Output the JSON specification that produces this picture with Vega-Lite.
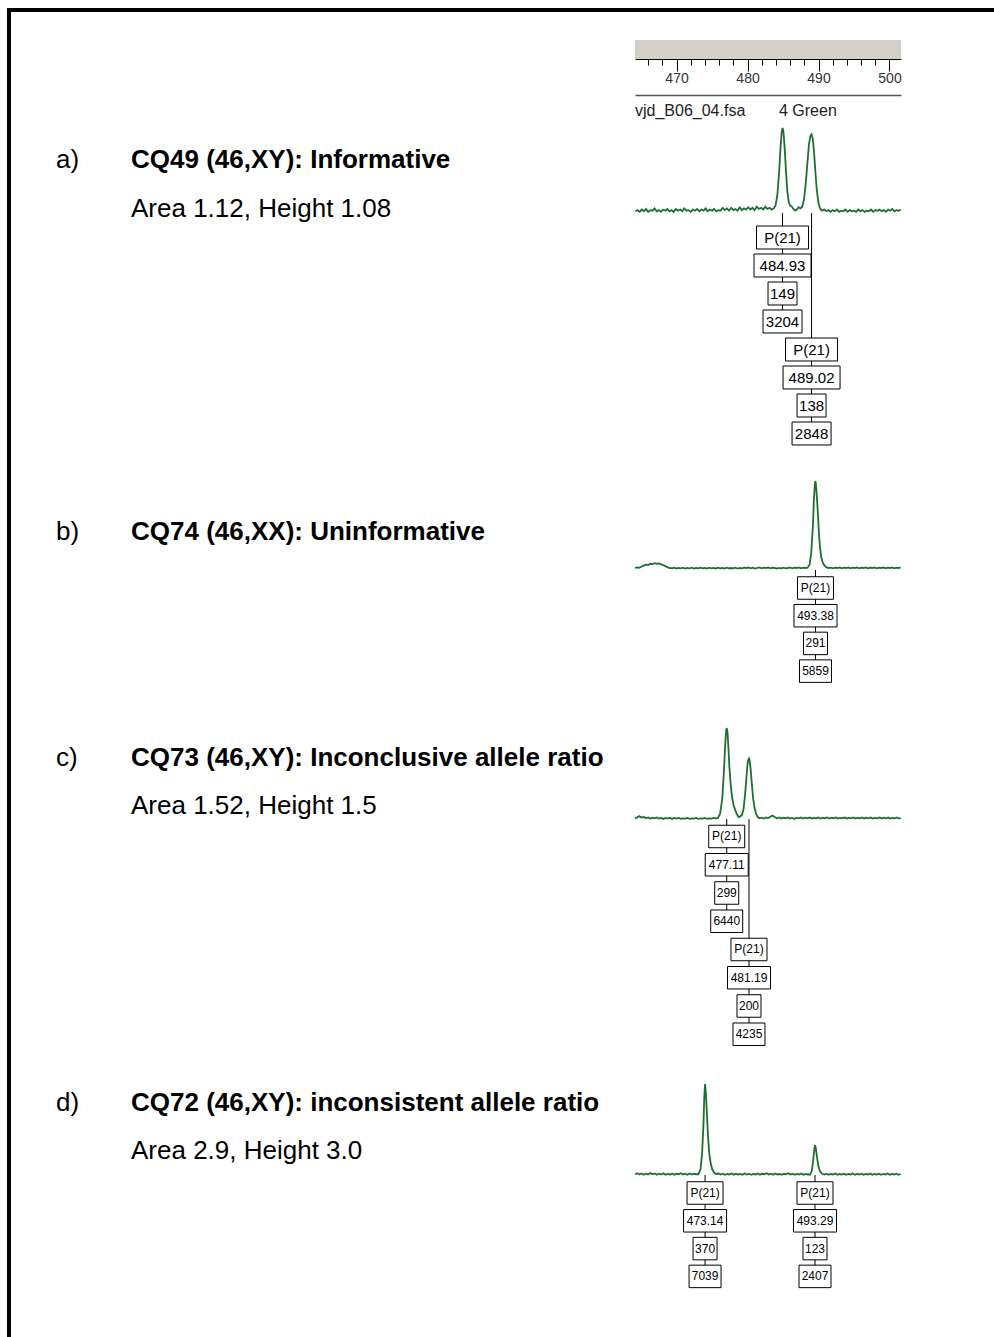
{
  "$schema": "https://vega.github.io/schema/vega-lite/v6.json",
  "padding": {"left": 6, "top": 7, "right": 0, "bottom": 0},
  "background": "white",
  "config": {"view": {"stroke": null}, "font": "Liberation Sans"},
  "datasets": {
    "texts": [
      {"kind": "letter", "line": 1, "text": "a)"},
      {"kind": "heading", "line": 1, "text": "CQ49 (46,XY): Informative"},
      {"kind": "detail", "line": 2, "text": "Area 1.12, Height 1.08"},
      {"kind": "letter", "line": 3, "text": "b)"},
      {"kind": "heading", "line": 3, "text": "CQ74 (46,XX): Uninformative"},
      {"kind": "letter", "line": 4, "text": "c)"},
      {"kind": "heading", "line": 4, "text": "CQ73 (46,XY): Inconclusive allele ratio"},
      {"kind": "detail", "line": 5, "text": "Area 1.52, Height 1.5"},
      {"kind": "letter", "line": 6, "text": "d)"},
      {"kind": "heading", "line": 6, "text": "CQ72 (46,XY): inconsistent allele ratio"},
      {"kind": "detail", "line": 7, "text": "Area 2.9, Height 3.0"}
    ],
    "peaks": [
      {"panel": "a", "peak": 484.93, "group": 0, "allele": "P(21)", "size": "484.93", "height": "149", "area": "3204"},
      {"panel": "a", "peak": 489.02, "group": 1, "allele": "P(21)", "size": "489.02", "height": "138", "area": "2848"},
      {"panel": "b", "peak": 493.38, "group": 0, "allele": "P(21)", "size": "493.38", "height": "291", "area": "5859"},
      {"panel": "c", "peak": 477.11, "group": 0, "allele": "P(21)", "size": "477.11", "height": "299", "area": "6440"},
      {"panel": "c", "peak": 481.19, "group": 1, "allele": "P(21)", "size": "481.19", "height": "200", "area": "4235"},
      {"panel": "d", "peak": 473.14, "group": 0, "allele": "P(21)", "size": "473.14", "height": "370", "area": "7039"},
      {"panel": "d", "peak": 493.29, "group": 0, "allele": "P(21)", "size": "493.29", "height": "123", "area": "2407"}
    ],
    "ta": [
      {"x":464.2,"y":4},{"x":464.5,"y":6},{"x":464.8,"y":3},{"x":465.1,"y":7},{"x":465.4,"y":4},{"x":465.7,"y":8},{"x":466.0,"y":3},{"x":466.3,"y":6},{"x":466.6,"y":5},{"x":466.9,"y":9},
      {"x":467.2,"y":4},{"x":467.5,"y":6},{"x":467.8,"y":3},{"x":468.1,"y":7},{"x":468.4,"y":5},{"x":468.7,"y":8},{"x":469.0,"y":4},{"x":469.3,"y":6},{"x":469.6,"y":3},{"x":469.9,"y":8},
      {"x":470.2,"y":5},{"x":470.5,"y":7},{"x":470.8,"y":4},{"x":471.1,"y":9},{"x":471.4,"y":5},{"x":471.7,"y":6},{"x":472.0,"y":3},{"x":472.3,"y":7},{"x":472.6,"y":5},{"x":472.9,"y":8},
      {"x":473.2,"y":4},{"x":473.5,"y":7},{"x":473.8,"y":5},{"x":474.1,"y":9},{"x":474.4,"y":4},{"x":474.7,"y":7},{"x":475.0,"y":5},{"x":475.3,"y":8},{"x":475.6,"y":4},{"x":475.9,"y":6},
      {"x":476.2,"y":5},{"x":476.5,"y":10},{"x":476.8,"y":6},{"x":477.1,"y":9},{"x":477.4,"y":5},{"x":477.7,"y":10},{"x":478.0,"y":6},{"x":478.3,"y":8},{"x":478.6,"y":5},{"x":478.9,"y":11},
      {"x":479.2,"y":6},{"x":479.5,"y":9},{"x":479.8,"y":7},{"x":480.1,"y":11},{"x":480.4,"y":7},{"x":480.7,"y":10},{"x":481.0,"y":6},{"x":481.3,"y":12},{"x":481.6,"y":8},{"x":481.9,"y":10},
      {"x":482.2,"y":7},{"x":482.5,"y":12},{"x":482.8,"y":8},{"x":483.1,"y":10},{"x":483.4,"y":7},{"x":483.7,"y":9},{"x":483.95,"y":14},{"x":484.2,"y":32},{"x":484.45,"y":72},{"x":484.65,"y":115},
      {"x":484.8,"y":140},{"x":484.93,"y":149},{"x":485.05,"y":144},{"x":485.2,"y":120},{"x":485.4,"y":78},{"x":485.6,"y":40},{"x":485.8,"y":20},{"x":486.0,"y":14},{"x":486.2,"y":13},{"x":486.45,"y":8},
      {"x":486.7,"y":5},{"x":486.95,"y":7},{"x":487.2,"y":11},{"x":487.45,"y":9},{"x":487.7,"y":12},{"x":487.95,"y":24},{"x":488.2,"y":52},{"x":488.45,"y":90},{"x":488.65,"y":120},{"x":488.85,"y":135},
      {"x":489.02,"y":138},{"x":489.18,"y":131},{"x":489.35,"y":110},{"x":489.55,"y":75},{"x":489.75,"y":42},{"x":490.0,"y":18},{"x":490.25,"y":8},{"x":490.5,"y":5},{"x":490.8,"y":7},{"x":491.1,"y":4},
      {"x":491.4,"y":6},{"x":491.7,"y":3},{"x":492.0,"y":6},{"x":492.3,"y":4},{"x":492.6,"y":7},{"x":492.9,"y":3},{"x":493.2,"y":5},{"x":493.5,"y":4},{"x":493.8,"y":7},{"x":494.1,"y":3},
      {"x":494.4,"y":6},{"x":494.7,"y":4},{"x":495.0,"y":5},{"x":495.3,"y":3},{"x":495.6,"y":7},{"x":495.9,"y":4},{"x":496.2,"y":6},{"x":496.5,"y":3},{"x":496.8,"y":5},{"x":497.1,"y":4},
      {"x":497.4,"y":7},{"x":497.7,"y":3},{"x":498.0,"y":6},{"x":498.3,"y":5},{"x":498.6,"y":7},{"x":498.9,"y":4},{"x":499.2,"y":6},{"x":499.5,"y":3},{"x":499.8,"y":7},{"x":500.1,"y":5},
      {"x":500.4,"y":8},{"x":500.7,"y":4},{"x":501.0,"y":6},{"x":501.3,"y":5},{"x":501.6,"y":7}
    ],
    "tb": [
      {"x":460.3,"y":4},{"x":460.7,"y":6},{"x":461.1,"y":5},{"x":461.5,"y":9},{"x":461.9,"y":12},{"x":462.3,"y":15},{"x":462.7,"y":14},{"x":463.1,"y":18},{"x":463.5,"y":17},{"x":463.9,"y":20},
      {"x":464.3,"y":18},{"x":464.7,"y":19},{"x":465.1,"y":16},{"x":465.5,"y":13},{"x":465.9,"y":10},{"x":466.3,"y":6},{"x":466.7,"y":4},{"x":467.1,"y":3},{"x":467.5,"y":5},{"x":467.9,"y":2},
      {"x":468.3,"y":4},{"x":468.7,"y":3},{"x":469.1,"y":5},{"x":469.5,"y":2},{"x":469.9,"y":4},{"x":470.3,"y":3},{"x":470.7,"y":5},{"x":471.1,"y":2},{"x":471.5,"y":4},{"x":471.9,"y":3},
      {"x":472.3,"y":5},{"x":472.7,"y":3},{"x":473.1,"y":4},{"x":473.5,"y":2},{"x":473.9,"y":5},{"x":474.3,"y":3},{"x":474.7,"y":4},{"x":475.1,"y":2},{"x":475.5,"y":5},{"x":475.9,"y":3},
      {"x":476.3,"y":4},{"x":476.7,"y":2},{"x":477.1,"y":5},{"x":477.5,"y":3},{"x":477.9,"y":4},{"x":478.3,"y":3},{"x":478.7,"y":5},{"x":479.1,"y":2},{"x":479.5,"y":4},{"x":479.9,"y":3},
      {"x":480.3,"y":5},{"x":480.7,"y":4},{"x":481.1,"y":6},{"x":481.5,"y":3},{"x":481.9,"y":5},{"x":482.3,"y":2},{"x":482.7,"y":4},{"x":483.1,"y":6},{"x":483.5,"y":3},{"x":483.9,"y":5},
      {"x":484.3,"y":4},{"x":484.7,"y":6},{"x":485.1,"y":3},{"x":485.5,"y":5},{"x":485.9,"y":4},{"x":486.3,"y":2},{"x":486.7,"y":4},{"x":487.1,"y":3},{"x":487.5,"y":5},{"x":487.9,"y":3},
      {"x":488.3,"y":4},{"x":488.7,"y":6},{"x":489.1,"y":3},{"x":489.5,"y":5},{"x":489.9,"y":4},{"x":490.3,"y":6},{"x":490.7,"y":3},{"x":491.1,"y":5},{"x":491.5,"y":4},{"x":491.9,"y":5},
      {"x":492.3,"y":15},{"x":492.6,"y":55},{"x":492.9,"y":140},{"x":493.1,"y":235},{"x":493.28,"y":283},{"x":493.38,"y":291},{"x":493.5,"y":272},{"x":493.65,"y":232},{"x":493.8,"y":190},{"x":494.0,"y":122},
      {"x":494.2,"y":72},{"x":494.45,"y":38},{"x":494.75,"y":20},{"x":495.05,"y":12},{"x":495.4,"y":6},{"x":495.8,"y":4},{"x":496.2,"y":5},{"x":496.6,"y":3},{"x":497.0,"y":5},{"x":497.4,"y":4},
      {"x":497.8,"y":6},{"x":498.2,"y":3},{"x":498.6,"y":5},{"x":499.0,"y":4},{"x":499.4,"y":6},{"x":499.8,"y":3},{"x":500.2,"y":5},{"x":500.6,"y":4},{"x":501.0,"y":6},{"x":501.4,"y":3},
      {"x":501.8,"y":5},{"x":502.2,"y":4},{"x":502.6,"y":6},{"x":503.0,"y":3},{"x":503.4,"y":5},{"x":503.8,"y":4},{"x":504.2,"y":6},{"x":504.6,"y":3},{"x":505.0,"y":5},{"x":505.4,"y":4},
      {"x":505.8,"y":6},{"x":506.2,"y":3},{"x":506.6,"y":5},{"x":507.0,"y":4},{"x":507.4,"y":6},{"x":507.8,"y":3},{"x":508.2,"y":5},{"x":508.6,"y":4},{"x":509.0,"y":5}
    ],
    "tc": [
      {"x":460.3,"y":5},{"x":460.7,"y":8},{"x":461.1,"y":12},{"x":461.5,"y":7},{"x":461.9,"y":10},{"x":462.3,"y":5},{"x":462.7,"y":8},{"x":463.1,"y":4},{"x":463.5,"y":7},{"x":463.9,"y":5},
      {"x":464.3,"y":8},{"x":464.7,"y":4},{"x":465.1,"y":6},{"x":465.5,"y":3},{"x":465.9,"y":6},{"x":466.3,"y":4},{"x":466.7,"y":7},{"x":467.1,"y":3},{"x":467.5,"y":6},{"x":467.9,"y":4},
      {"x":468.3,"y":6},{"x":468.7,"y":3},{"x":469.1,"y":5},{"x":469.5,"y":4},{"x":469.9,"y":6},{"x":470.3,"y":3},{"x":470.7,"y":5},{"x":471.1,"y":4},{"x":471.5,"y":6},{"x":471.9,"y":3},
      {"x":472.3,"y":5},{"x":472.7,"y":4},{"x":473.1,"y":6},{"x":473.5,"y":3},{"x":473.9,"y":5},{"x":474.3,"y":4},{"x":474.7,"y":6},{"x":475.1,"y":5},{"x":475.5,"y":6},{"x":475.9,"y":20},
      {"x":476.3,"y":70},{"x":476.6,"y":160},{"x":476.85,"y":250},{"x":477.0,"y":290},{"x":477.11,"y":299},{"x":477.25,"y":285},{"x":477.4,"y":242},{"x":477.6,"y":172},{"x":477.85,"y":112},{"x":478.1,"y":72},
      {"x":478.4,"y":46},{"x":478.7,"y":30},{"x":479.0,"y":17},{"x":479.3,"y":9},{"x":479.6,"y":11},{"x":479.9,"y":16},{"x":480.2,"y":36},{"x":480.5,"y":86},{"x":480.75,"y":146},{"x":480.95,"y":186},
      {"x":481.1,"y":198},{"x":481.19,"y":200},{"x":481.3,"y":194},{"x":481.5,"y":165},{"x":481.7,"y":120},{"x":481.95,"y":70},{"x":482.2,"y":40},{"x":482.5,"y":19},{"x":482.8,"y":9},{"x":483.1,"y":5},
      {"x":483.5,"y":7},{"x":483.9,"y":4},{"x":484.3,"y":8},{"x":484.7,"y":6},{"x":485.1,"y":10},{"x":485.5,"y":14},{"x":485.9,"y":9},{"x":486.3,"y":5},{"x":486.7,"y":8},{"x":487.1,"y":4},
      {"x":487.5,"y":7},{"x":487.9,"y":5},{"x":488.3,"y":8},{"x":488.7,"y":4},{"x":489.1,"y":6},{"x":489.5,"y":3},{"x":489.9,"y":7},{"x":490.3,"y":5},{"x":490.7,"y":8},{"x":491.1,"y":4},
      {"x":491.5,"y":7},{"x":491.9,"y":5},{"x":492.3,"y":8},{"x":492.7,"y":4},{"x":493.1,"y":6},{"x":493.5,"y":5},{"x":493.9,"y":8},{"x":494.3,"y":4},{"x":494.7,"y":7},{"x":495.1,"y":5},
      {"x":495.5,"y":8},{"x":495.9,"y":4},{"x":496.3,"y":7},{"x":496.7,"y":5},{"x":497.1,"y":8},{"x":497.5,"y":4},{"x":497.9,"y":6},{"x":498.3,"y":5},{"x":498.7,"y":8},{"x":499.1,"y":4},
      {"x":499.5,"y":7},{"x":499.9,"y":5},{"x":500.3,"y":8},{"x":500.7,"y":4},{"x":501.1,"y":6},{"x":501.5,"y":5},{"x":501.9,"y":8},{"x":502.3,"y":4},{"x":502.7,"y":7},{"x":503.1,"y":5},
      {"x":503.5,"y":8},{"x":503.9,"y":4},{"x":504.3,"y":6},{"x":504.7,"y":5},{"x":505.1,"y":8},{"x":505.5,"y":4},{"x":505.9,"y":7},{"x":506.3,"y":5},{"x":506.7,"y":8},{"x":507.1,"y":4},
      {"x":507.5,"y":6},{"x":507.9,"y":5},{"x":508.3,"y":8},{"x":508.7,"y":4},{"x":509.0,"y":6}
    ],
    "td": [
      {"x":460.3,"y":6},{"x":460.7,"y":10},{"x":461.1,"y":5},{"x":461.5,"y":9},{"x":461.9,"y":4},{"x":462.3,"y":8},{"x":462.7,"y":5},{"x":463.1,"y":11},{"x":463.5,"y":6},{"x":463.9,"y":9},
      {"x":464.3,"y":4},{"x":464.7,"y":8},{"x":465.1,"y":5},{"x":465.5,"y":10},{"x":465.9,"y":4},{"x":466.3,"y":7},{"x":466.7,"y":5},{"x":467.1,"y":9},{"x":467.5,"y":4},{"x":467.9,"y":8},
      {"x":468.3,"y":6},{"x":468.7,"y":10},{"x":469.1,"y":5},{"x":469.5,"y":8},{"x":469.9,"y":4},{"x":470.3,"y":9},{"x":470.7,"y":5},{"x":471.1,"y":8},{"x":471.5,"y":6},{"x":471.9,"y":6},
      {"x":472.3,"y":25},{"x":472.6,"y":90},{"x":472.85,"y":210},{"x":473.0,"y":320},{"x":473.14,"y":370},{"x":473.3,"y":330},{"x":473.5,"y":240},{"x":473.7,"y":152},{"x":473.9,"y":92},{"x":474.15,"y":52},
      {"x":474.45,"y":26},{"x":474.8,"y":13},{"x":475.2,"y":7},{"x":475.6,"y":9},{"x":476.0,"y":5},{"x":476.4,"y":8},{"x":476.8,"y":4},{"x":477.2,"y":7},{"x":477.6,"y":5},{"x":478.0,"y":9},
      {"x":478.4,"y":4},{"x":478.8,"y":8},{"x":479.2,"y":5},{"x":479.6,"y":7},{"x":480.0,"y":4},{"x":480.4,"y":9},{"x":480.8,"y":5},{"x":481.2,"y":8},{"x":481.6,"y":4},{"x":482.0,"y":7},
      {"x":482.4,"y":5},{"x":482.8,"y":9},{"x":483.2,"y":4},{"x":483.6,"y":8},{"x":484.0,"y":6},{"x":484.4,"y":10},{"x":484.8,"y":5},{"x":485.2,"y":8},{"x":485.6,"y":4},{"x":486.0,"y":9},
      {"x":486.4,"y":5},{"x":486.8,"y":7},{"x":487.2,"y":4},{"x":487.6,"y":8},{"x":488.0,"y":6},{"x":488.4,"y":10},{"x":488.8,"y":5},{"x":489.2,"y":8},{"x":489.6,"y":4},{"x":490.0,"y":7},
      {"x":490.4,"y":5},{"x":490.8,"y":9},{"x":491.2,"y":4},{"x":491.6,"y":7},{"x":492.0,"y":5},{"x":492.4,"y":5},{"x":492.7,"y":20},{"x":492.95,"y":60},{"x":493.15,"y":105},{"x":493.29,"y":123},
      {"x":493.45,"y":110},{"x":493.65,"y":75},{"x":493.9,"y":40},{"x":494.2,"y":18},{"x":494.6,"y":8},{"x":495.0,"y":5},{"x":495.4,"y":8},{"x":495.8,"y":4},{"x":496.2,"y":7},{"x":496.6,"y":5},
      {"x":497.0,"y":9},{"x":497.4,"y":4},{"x":497.8,"y":7},{"x":498.2,"y":5},{"x":498.6,"y":8},{"x":499.0,"y":4},{"x":499.4,"y":7},{"x":499.8,"y":5},{"x":500.2,"y":9},{"x":500.6,"y":4},
      {"x":501.0,"y":7},{"x":501.4,"y":5},{"x":501.8,"y":8},{"x":502.2,"y":4},{"x":502.6,"y":7},{"x":503.0,"y":5},{"x":503.4,"y":9},{"x":503.8,"y":4},{"x":504.2,"y":7},{"x":504.6,"y":5},
      {"x":505.0,"y":8},{"x":505.4,"y":4},{"x":505.8,"y":7},{"x":506.2,"y":5},{"x":506.6,"y":9},{"x":507.0,"y":4},{"x":507.4,"y":7},{"x":507.8,"y":5},{"x":508.2,"y":8},{"x":508.6,"y":4},
      {"x":509.0,"y":7}
    ]
  },
  "spacing": 0,
  "bounds": "flush",
  "hconcat": [
    {"width": 4, "height": 1330, "view": {"fill": "black", "stroke": null}, "data": {"values": [{}]}, "mark": {"type": "point", "opacity": 0}},
    {
      "spacing": 0,
      "bounds": "flush",
      "vconcat": [
        {"width": 984, "height": 4, "view": {"fill": "black", "stroke": null}, "data": {"values": [{}]}, "mark": {"type": "point", "opacity": 0}},
        {
          "spacing": 0,
          "bounds": "flush",
          "hconcat": [
            {
              "width": 624, "height": 1289,
              "data": {"name": "texts"},
              "transform": [{"calculate": "datum.kind === 'letter' ? 0 : 1", "as": "indent"}],
              "encoding": {
                "x": {"field": "indent", "type": "quantitative", "scale": {"domain": [0, 1], "range": [45, 120]}, "axis": null},
                "y": {"field": "line", "type": "quantitative", "scale": {"domain": [1, 2, 3, 4, 5, 6, 7], "range": [148, 197, 520, 746, 794, 1091, 1139]}, "axis": null},
                "text": {"field": "text"}
              },
              "layer": [
                {"transform": [{"filter": "datum.kind === 'heading'"}], "mark": {"type": "text", "align": "left", "baseline": "middle", "font": "Liberation Sans", "fontSize": 26, "fontWeight": "bold", "color": "black"}},
                {"transform": [{"filter": "datum.kind !== 'heading'"}], "mark": {"type": "text", "align": "left", "baseline": "middle", "font": "Liberation Sans", "fontSize": 26, "fontWeight": "normal", "color": "black"}}
              ]
            },
            {
              "spacing": 0,
              "bounds": "flush",
              "vconcat": [
                {"width": 266, "height": 28, "data": {"values": [{}]}, "mark": {"type": "point", "opacity": 0}},
                {
                  "width": 266, "height": 19,
                  "view": {"fill": "#d4d0c8", "stroke": null},
                  "data": {"name": "ta"},
                  "mark": {"type": "point", "opacity": 0},
                  "encoding": {
                    "x": {"field": "x", "type": "quantitative", "scale": {"domain": [464.15, 501.62], "nice": false, "zero": false},
                      "axis": {"orient": "bottom", "title": null, "grid": false,
                        "values": [466, 468, 470, 472, 474, 476, 478, 480, 482, 484, 486, 488, 490, 492, 494, 496, 498, 500],
                        "tickSize": {"condition": {"test": "datum.value % 10 === 0", "value": 12}, "value": 6},
                        "tickColor": "black", "tickWidth": 1, "domainColor": "black", "domainWidth": 1,
                        "labelExpr": "datum.value % 10 === 0 ? datum.label : ''",
                        "labelFont": "Liberation Sans", "labelFontSize": 14, "labelColor": "#333", "labelPadding": 0, "labelFlush": false, "labelOverlap": false}}
                  }
                },
                {"width": 266, "height": 36, "data": {"values": [{}]}, "mark": {"type": "point", "opacity": 0}},
                {
                  "width": 266, "height": 31,
                  "data": {"values": [{"text": "vjd_B06_04.fsa", "at": 464.15}, {"text": "4 Green", "at": 484.43}]},
                  "mark": {"type": "text", "align": "left", "baseline": "middle", "font": "Liberation Sans", "fontSize": 16, "color": "#222"},
                  "encoding": {
                    "x": {"field": "at", "type": "quantitative", "scale": {"domain": [464.15, 501.62], "nice": false, "zero": false},
                      "axis": {"orient": "top", "title": null, "grid": false, "ticks": false, "labels": false, "domain": true, "domainColor": "#555", "domainWidth": 1.5}},
                    "text": {"field": "text"}
                  }
                },
                {
                  "width": 266, "height": 87,
                  "data": {"name": "ta"},
                  "mark": {"type": "line", "color": "#1f6f2f", "strokeWidth": 1.8},
                  "encoding": {
                    "x": {"field": "x", "type": "quantitative", "scale": {"domain": [464.15, 501.62], "nice": false, "zero": false}, "axis": null},
                    "y": {"field": "y", "type": "quantitative", "scale": {"domain": [1, 152.5], "nice": false, "zero": false}, "axis": null}
                  }
                },
                {
                  "width": 266, "height": 234,
                  "data": {"name": "peaks"},
                  "transform": [
                    {"filter": "datum.panel === 'a'"},
                    {"fold": ["allele", "size", "height", "area"], "as": ["field", "text"]},
                    {"calculate": "datum.group * 4 + indexof(['allele','size','height','area'], datum.field)", "as": "slot"},
                    {"calculate": "(datum.panel === 'a' ? 'A' : 'B') + length(datum.text)", "as": "cls"}
                  ],
                  "encoding": {
                    "x": {"field": "peak", "type": "quantitative", "scale": {"domain": [464.15, 501.62], "nice": false, "zero": false}, "axis": null},
                    "y": {"field": "slot", "type": "quantitative", "scale": {"domain": [-0.875, 7.482], "nice": false, "zero": false, "reverse": true}, "axis": null}
                  },
                  "layer": [
                    {"transform": [{"filter": "datum.field === 'area'"}], "mark": {"type": "rule", "color": "black", "strokeWidth": 1}, "encoding": {"y2": {"value": 0}}},
                    {"mark": {"type": "point", "filled": true, "fill": "white", "stroke": "black", "strokeWidth": 1, "opacity": 1, "size": 3600},
                      "encoding": {"shape": {"field": "cls", "type": "nominal", "legend": null, "scale": {"domain": ["A3", "A4", "A5", "A6", "B3", "B4", "B5", "B6"], "range": ["M-0.483,-0.383H0.483V0.383H-0.483Z", "M-0.65,-0.383H0.65V0.383H-0.65Z", "M-0.867,-0.383H0.867V0.383H-0.867Z", "M-0.95,-0.383H0.95V0.383H-0.95Z", "M-0.4,-0.375H0.4V0.375H-0.4Z", "M-0.533,-0.375H0.533V0.375H-0.533Z", "M-0.6,-0.375H0.6V0.375H-0.6Z", "M-0.717,-0.375H0.717V0.375H-0.717Z"]}}}},
                    {"mark": {"type": "text", "font": "Liberation Sans", "fontSize": 15, "color": "black", "baseline": "middle", "align": "center"}, "encoding": {"text": {"field": "text"}}}
                  ]
                },
                {
                  "width": 266, "height": 123,
                  "data": {"name": "tb"},
                  "mark": {"type": "line", "color": "#1f6f2f", "strokeWidth": 1.8},
                  "encoding": {
                    "x": {"field": "x", "type": "quantitative", "scale": {"domain": [460.3, 509.05], "nice": false, "zero": false}, "axis": null},
                    "y": {"field": "y", "type": "quantitative", "scale": {"domain": [-2.6, 403.2], "nice": false, "zero": false}, "axis": null}
                  }
                },
                {
                  "width": 266, "height": 131,
                  "data": {"name": "peaks"},
                  "transform": [
                    {"filter": "datum.panel === 'b'"},
                    {"fold": ["allele", "size", "height", "area"], "as": ["field", "text"]},
                    {"calculate": "datum.group * 4 + indexof(['allele','size','height','area'], datum.field)", "as": "slot"},
                    {"calculate": "(datum.panel === 'a' ? 'A' : 'B') + length(datum.text)", "as": "cls"}
                  ],
                  "encoding": {
                    "x": {"field": "peak", "type": "quantitative", "scale": {"domain": [460.3, 509.05], "nice": false, "zero": false}, "axis": null},
                    "y": {"field": "slot", "type": "quantitative", "scale": {"domain": [-0.65, 4.079], "nice": false, "zero": false, "reverse": true}, "axis": null}
                  },
                  "layer": [
                    {"transform": [{"filter": "datum.field === 'area'"}], "mark": {"type": "rule", "color": "black", "strokeWidth": 1}, "encoding": {"y2": {"value": 0}}},
                    {"mark": {"type": "point", "filled": true, "fill": "white", "stroke": "black", "strokeWidth": 1, "opacity": 1, "size": 3600},
                      "encoding": {"shape": {"field": "cls", "type": "nominal", "legend": null, "scale": {"domain": ["A3", "A4", "A5", "A6", "B3", "B4", "B5", "B6"], "range": ["M-0.483,-0.383H0.483V0.383H-0.483Z", "M-0.65,-0.383H0.65V0.383H-0.65Z", "M-0.867,-0.383H0.867V0.383H-0.867Z", "M-0.95,-0.383H0.95V0.383H-0.95Z", "M-0.4,-0.375H0.4V0.375H-0.4Z", "M-0.533,-0.375H0.533V0.375H-0.533Z", "M-0.6,-0.375H0.6V0.375H-0.6Z", "M-0.717,-0.375H0.717V0.375H-0.717Z"]}}}},
                    {"mark": {"type": "text", "font": "Liberation Sans", "fontSize": 12, "color": "black", "baseline": "middle", "align": "center"}, "encoding": {"text": {"field": "text"}}}
                  ]
                },
                {
                  "width": 266, "height": 118,
                  "data": {"name": "tc"},
                  "mark": {"type": "line", "color": "#1f6f2f", "strokeWidth": 1.8},
                  "encoding": {
                    "x": {"field": "x", "type": "quantitative", "scale": {"domain": [460.3, 509.05], "nice": false, "zero": false}, "axis": null},
                    "y": {"field": "y", "type": "quantitative", "scale": {"domain": [2.74, 387.1], "nice": false, "zero": false}, "axis": null}
                  }
                },
                {
                  "width": 266, "height": 237,
                  "data": {"name": "peaks"},
                  "transform": [
                    {"filter": "datum.panel === 'c'"},
                    {"fold": ["allele", "size", "height", "area"], "as": ["field", "text"]},
                    {"calculate": "datum.group * 4 + indexof(['allele','size','height','area'], datum.field)", "as": "slot"},
                    {"calculate": "(datum.panel === 'a' ? 'A' : 'B') + length(datum.text)", "as": "cls"}
                  ],
                  "encoding": {
                    "x": {"field": "peak", "type": "quantitative", "scale": {"domain": [460.3, 509.05], "nice": false, "zero": false}, "axis": null},
                    "y": {"field": "slot", "type": "quantitative", "scale": {"domain": [-0.619, 7.77], "nice": false, "zero": false, "reverse": true}, "axis": null}
                  },
                  "layer": [
                    {"transform": [{"filter": "datum.field === 'area'"}], "mark": {"type": "rule", "color": "black", "strokeWidth": 1}, "encoding": {"y2": {"value": 0}}},
                    {"mark": {"type": "point", "filled": true, "fill": "white", "stroke": "black", "strokeWidth": 1, "opacity": 1, "size": 3600},
                      "encoding": {"shape": {"field": "cls", "type": "nominal", "legend": null, "scale": {"domain": ["A3", "A4", "A5", "A6", "B3", "B4", "B5", "B6"], "range": ["M-0.483,-0.383H0.483V0.383H-0.483Z", "M-0.65,-0.383H0.65V0.383H-0.65Z", "M-0.867,-0.383H0.867V0.383H-0.867Z", "M-0.95,-0.383H0.95V0.383H-0.95Z", "M-0.4,-0.375H0.4V0.375H-0.4Z", "M-0.533,-0.375H0.533V0.375H-0.533Z", "M-0.6,-0.375H0.6V0.375H-0.6Z", "M-0.717,-0.375H0.717V0.375H-0.717Z"]}}}},
                    {"mark": {"type": "text", "font": "Liberation Sans", "fontSize": 12, "color": "black", "baseline": "middle", "align": "center"}, "encoding": {"text": {"field": "text"}}}
                  ]
                },
                {
                  "width": 266, "height": 119,
                  "data": {"name": "td"},
                  "mark": {"type": "line", "color": "#1f6f2f", "strokeWidth": 1.8},
                  "encoding": {
                    "x": {"field": "x", "type": "quantitative", "scale": {"domain": [460.3, 509.05], "nice": false, "zero": false}, "axis": null},
                    "y": {"field": "y", "type": "quantitative", "scale": {"domain": [2.97, 482.8], "nice": false, "zero": false}, "axis": null}
                  }
                },
                {
                  "width": 266, "height": 126,
                  "data": {"name": "peaks"},
                  "transform": [
                    {"filter": "datum.panel === 'd'"},
                    {"fold": ["allele", "size", "height", "area"], "as": ["field", "text"]},
                    {"calculate": "datum.group * 4 + indexof(['allele','size','height','area'], datum.field)", "as": "slot"},
                    {"calculate": "(datum.panel === 'a' ? 'A' : 'B') + length(datum.text)", "as": "cls"}
                  ],
                  "encoding": {
                    "x": {"field": "peak", "type": "quantitative", "scale": {"domain": [460.3, 509.05], "nice": false, "zero": false}, "axis": null},
                    "y": {"field": "slot", "type": "quantitative", "scale": {"domain": [-0.647, 3.885], "nice": false, "zero": false, "reverse": true}, "axis": null}
                  },
                  "layer": [
                    {"transform": [{"filter": "datum.field === 'area'"}], "mark": {"type": "rule", "color": "black", "strokeWidth": 1}, "encoding": {"y2": {"value": 0}}},
                    {"mark": {"type": "point", "filled": true, "fill": "white", "stroke": "black", "strokeWidth": 1, "opacity": 1, "size": 3600},
                      "encoding": {"shape": {"field": "cls", "type": "nominal", "legend": null, "scale": {"domain": ["A3", "A4", "A5", "A6", "B3", "B4", "B5", "B6"], "range": ["M-0.483,-0.383H0.483V0.383H-0.483Z", "M-0.65,-0.383H0.65V0.383H-0.65Z", "M-0.867,-0.383H0.867V0.383H-0.867Z", "M-0.95,-0.383H0.95V0.383H-0.95Z", "M-0.4,-0.375H0.4V0.375H-0.4Z", "M-0.533,-0.375H0.533V0.375H-0.533Z", "M-0.6,-0.375H0.6V0.375H-0.6Z", "M-0.717,-0.375H0.717V0.375H-0.717Z"]}}}},
                    {"mark": {"type": "text", "font": "Liberation Sans", "fontSize": 12, "color": "black", "baseline": "middle", "align": "center"}, "encoding": {"text": {"field": "text"}}}
                  ]
                }
              ]
            }
          ]
        }
      ]
    }
  ]
}
